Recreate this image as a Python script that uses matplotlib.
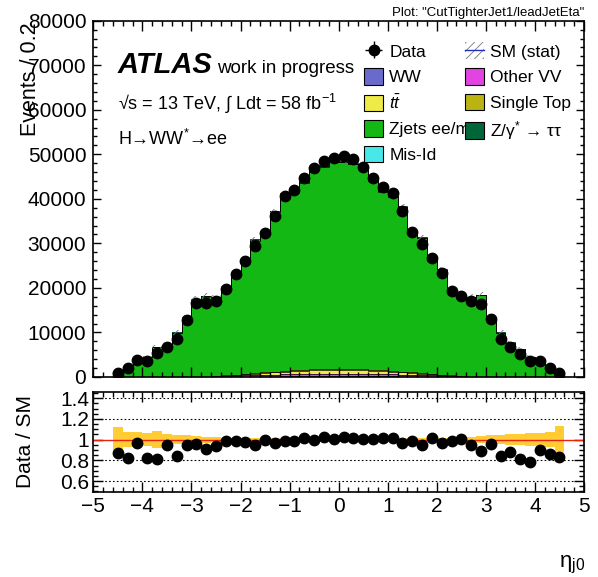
import numpy as np
import matplotlib
matplotlib.use("Agg")
import matplotlib.pyplot as plt
from matplotlib.ticker import MultipleLocator, FixedLocator
from matplotlib.patches import Patch
from matplotlib.lines import Line2D

plt.rcParams['font.family'] = ['Liberation Sans', 'DejaVu Sans']
plt.rcParams['mathtext.fontset'] = 'custom'
plt.rcParams['mathtext.rm'] = 'Liberation Sans'
plt.rcParams['mathtext.it'] = 'Liberation Sans:italic'
plt.rcParams['hatch.linewidth'] = 0.6

# leading jet eta, 46 bins of 0.2 from -4.6 to 4.6
edges = np.linspace(-4.6, 4.6, 47)
centers = 0.5 * (edges[1:] + edges[:-1])

data = [830, 2090, 3810, 3670, 5460, 6660, 8450, 12800, 16700, 16540, 17000, 19690,
        23050, 26120, 29410, 32400, 36150, 40700, 41980, 44600, 46850, 48560, 49090,
        49610, 48870, 47220, 44750, 42730, 41230, 37270, 32620, 29790, 26790, 23420,
        19380, 18260, 17140, 16390, 13020, 8460, 6810, 5100, 3590, 3670, 1950, 830]

ww = [0, 0, 0, 0, 0, 0, 2, 4, 8, 15, 25, 40, 55, 70, 85, 95, 105, 115, 120, 125, 130, 135, 135,
      135, 135, 130, 125, 120, 115, 105, 95, 85, 70, 55, 40, 25, 15, 8, 4, 2, 0, 0, 0, 0, 0, 0]
other_vv = [0, 0, 0, 0, 0, 0, 5, 10, 20, 40, 80, 150, 220, 280, 330, 380, 420, 460, 490, 520, 540, 550, 560,
            560, 550, 540, 520, 490, 460, 420, 380, 330, 280, 220, 150, 80, 40, 20, 10, 5, 0, 0, 0, 0, 0, 0]
ttbar = [0, 0, 0, 0, 0, 0, 5, 10, 20, 40, 70, 110, 170, 250, 340, 440, 540, 640, 730, 800, 860, 890, 900,
         900, 890, 860, 800, 730, 640, 540, 440, 340, 250, 170, 110, 70, 40, 20, 10, 5, 0, 0, 0, 0, 0, 0]
single_top = [0, 0, 0, 0, 0, 0, 2, 4, 8, 15, 25, 40, 55, 70, 85, 100, 115, 130, 145, 160, 170, 175, 180,
              180, 175, 170, 160, 145, 130, 115, 100, 85, 70, 55, 40, 25, 15, 8, 4, 2, 0, 0, 0, 0, 0, 0]
zjets = [942, 2503, 3879, 4388, 6641, 6906, 9924, 13287, 17263, 17936, 17638, 19460,
         22558, 25880, 29798, 31120, 35890, 39608, 40629, 42001, 44851, 45465, 46529,
         46467, 46050, 45080, 42410, 40158, 39073, 36928, 31770, 30296, 25380, 23469,
         19145, 17815, 17724, 18293, 13376, 9900, 7657, 6221, 4519, 4024, 2245, 986]
ztautau = [5, 10, 15, 20, 25, 30, 40, 50, 60, 70, 80, 90, 95, 100, 105, 110, 115, 118, 120, 122, 124, 125, 125,
           125, 125, 124, 122, 120, 118, 115, 110, 105, 100, 95, 90, 80, 70, 60, 50, 40, 30, 25, 20, 15, 10, 5]
misid = [10, 20, 30, 40, 50, 60, 70, 80, 90, 100, 110, 120, 130, 140, 150, 155, 160, 165, 170, 170, 175, 175, 175,
         175, 175, 175, 170, 170, 165, 160, 155, 150, 140, 130, 120, 110, 100, 90, 80, 70, 60, 50, 40, 30, 20, 10]

# relative MC stat uncertainty
mc_rel_err = [0.12, 0.07, 0.07, 0.06, 0.08, 0.05, 0.045, 0.04, 0.035, 0.03, 0.025, 0.02,
              0.018, 0.016, 0.014, 0.012, 0.011, 0.01, 0.009, 0.008, 0.008, 0.008, 0.008,
              0.008, 0.008, 0.008, 0.008, 0.009, 0.01, 0.011, 0.012, 0.014, 0.016, 0.018,
              0.02, 0.025, 0.03, 0.035, 0.04, 0.045, 0.05, 0.055, 0.06, 0.065, 0.07, 0.13]

ztt_label = "Z/γ$^{*}$ → ττ"
samples = [
    ("WW", ww, "#6a6acd"),
    ("Other VV", other_vv, "#e244e2"),
    (r"$t\bar{t}$", ttbar, "#eeea48"),
    ("Single Top", single_top, "#bab412"),
    ("Zjets ee/mm", zjets, "#14b814"),
    (ztt_label, ztautau, "#00663a"),
    ("Mis-Id", misid, "#48e8e8"),
]

W, H = 598, 577
fig = plt.figure(figsize=(W / 100, H / 100), dpi=100)
ax = fig.add_axes([93.3 / W, 1 - 377 / H, (584 - 93.3) / W, (377 - 20.7) / H])
rax = fig.add_axes([93.3 / W, 1 - 491.7 / H, (584 - 93.3) / W, (491.7 - 391.7) / H])

# stacked histogram
bottom = np.zeros(len(centers))
handles = {}
for name, vals, col in samples:
    vals = np.array(vals, dtype=float)
    ax.stairs(bottom + vals, edges, baseline=bottom, fill=True, color=col, zorder=1)
    ax.stairs(bottom + vals, edges, baseline=None, color="black", lw=0.5, zorder=1.2)
    handles[name] = Patch(facecolor=col, edgecolor="black", lw=0.8)
    bottom = bottom + vals
total = bottom
err = total * np.array(mc_rel_err)
ax.stairs(total + err, edges, baseline=total - err, fill=False, hatch="////",
          edgecolor="#777777", lw=0, zorder=1.3)

data = np.array(data, dtype=float)
dh = ax.errorbar(centers, data, yerr=np.sqrt(data), xerr=0.1, fmt="o", color="black",
                 ms=7.5, elinewidth=1, capsize=0, zorder=3)

ax.set_xlim(-5, 5)
ax.set_ylim(0, 80000)
ax.xaxis.set_major_locator(MultipleLocator(1))
ax.xaxis.set_minor_locator(MultipleLocator(0.2))
ax.yaxis.set_major_locator(MultipleLocator(10000))
ax.yaxis.set_minor_locator(MultipleLocator(2000))
ax.tick_params(which="both", direction="in", top=True, right=True, labelbottom=False,
               labelsize=15, width=1)
ax.tick_params(axis="x", which="major", length=7.5)
ax.tick_params(axis="x", which="minor", length=3.8)
ax.tick_params(axis="y", which="major", length=5.5, pad=5)
ax.tick_params(axis="y", which="minor", length=3)
for s in ax.spines.values():
    s.set_linewidth(1.2)

# ratio panel
ratio = data / total
rax.stairs(1 + np.array(mc_rel_err), edges, baseline=1 - np.array(mc_rel_err), fill=True,
           color="#ffcc33", lw=0, zorder=1)
rax.axhline(1, color="#e8220c", lw=1, zorder=2)
for yv in [0.6, 0.8, 1.2, 1.4]:
    rax.axhline(yv, color="black", lw=0.8, ls=(0, (1.5, 2)), zorder=0.5)
rax.plot(centers, ratio, "o", color="black", ms=7.5, zorder=3)
rax.set_xlim(-5, 5)
rax.set_ylim(0.497, 1.463)
rax.xaxis.set_major_locator(MultipleLocator(1))
rax.xaxis.set_minor_locator(MultipleLocator(0.2))
rax.yaxis.set_major_locator(FixedLocator([0.6, 0.8, 1.0, 1.2, 1.4]))
rax.yaxis.set_minor_locator(MultipleLocator(0.05))
rax.set_yticklabels(["0.6", "0.8", "1", "1.2", "1.4"])
rax.tick_params(which="both", direction="in", top=True, right=True, labelsize=15, width=1)
rax.tick_params(axis="x", which="major", length=7, pad=4)
rax.tick_params(axis="x", which="minor", length=3.8)
rax.tick_params(axis="y", which="major", length=7, pad=3)
rax.tick_params(axis="y", which="minor", length=3.5)
for s in rax.spines.values():
    s.set_linewidth(1.2)

# labels
fig.text(30 / W, 1 - 22 / H, "Events / 0.2", rotation=90, ha="center", va="top", fontsize=15.5)
fig.text(26 / W, 1 - 442 / H, "Data / SM", rotation=90, ha="center", va="center", fontsize=15)
fig.text(585 / W, 1 - 576 / H, "η$_{\\mathrm{j0}}$", ha="right", va="bottom", fontsize=16)
fig.text(584 / W, 1 - 16 / H, 'Plot: "CutTighterJet1/leadJetEta"', ha="right", va="baseline", fontsize=9.5)

fig.text(118 / W, 1 - 73 / H, "ATLAS", fontsize=21, fontweight="bold", fontstyle="italic", va="baseline")
fig.text(217 / W, 1 - 73 / H, "work in progress", fontsize=13.5, va="baseline")
fig.text(118 / W, 1 - 110 / H, "√s = 13 TeV, ∫ Ldt = 58 fb$^{-1}$", fontsize=13, va="baseline")
fig.text(118 / W, 1 - 145 / H, "H→WW$^{*}$→ee", fontsize=13, va="baseline")

# legend, two columns drawn separately
sm_handle = (Patch(facecolor="white", edgecolor="#777777", hatch="////", lw=0),
             Line2D([], [], color="#2030c0", lw=1))
col1 = [(dh, "Data"), (handles["WW"], "WW"), (handles[r"$t\bar{t}$"], r"$t\bar{t}$"),
        (handles["Zjets ee/mm"], "Zjets ee/mm"), (handles["Mis-Id"], "Mis-Id")]
col2 = [(sm_handle, "SM (stat)"), (handles["Other VV"], "Other VV"),
        (handles["Single Top"], "Single Top"), (handles[ztt_label], ztt_label)]
leg_kw = dict(frameon=False, fontsize=12.5, handlelength=1.1, handleheight=1.1,
              handletextpad=0.35, labelspacing=0.48, borderpad=0, borderaxespad=0,
              loc="upper left", bbox_transform=fig.transFigure)
leg1 = ax.legend([h for h, _ in col1], [l for _, l in col1],
                 bbox_to_anchor=(364 / W, 1 - 42.5 / H), **leg_kw)
ax.add_artist(leg1)
leg2 = ax.legend([h for h, _ in col2], [l for _, l in col2],
                 bbox_to_anchor=(465 / W, 1 - 42.5 / H), **leg_kw)

fig.savefig("out.png", dpi=100)
